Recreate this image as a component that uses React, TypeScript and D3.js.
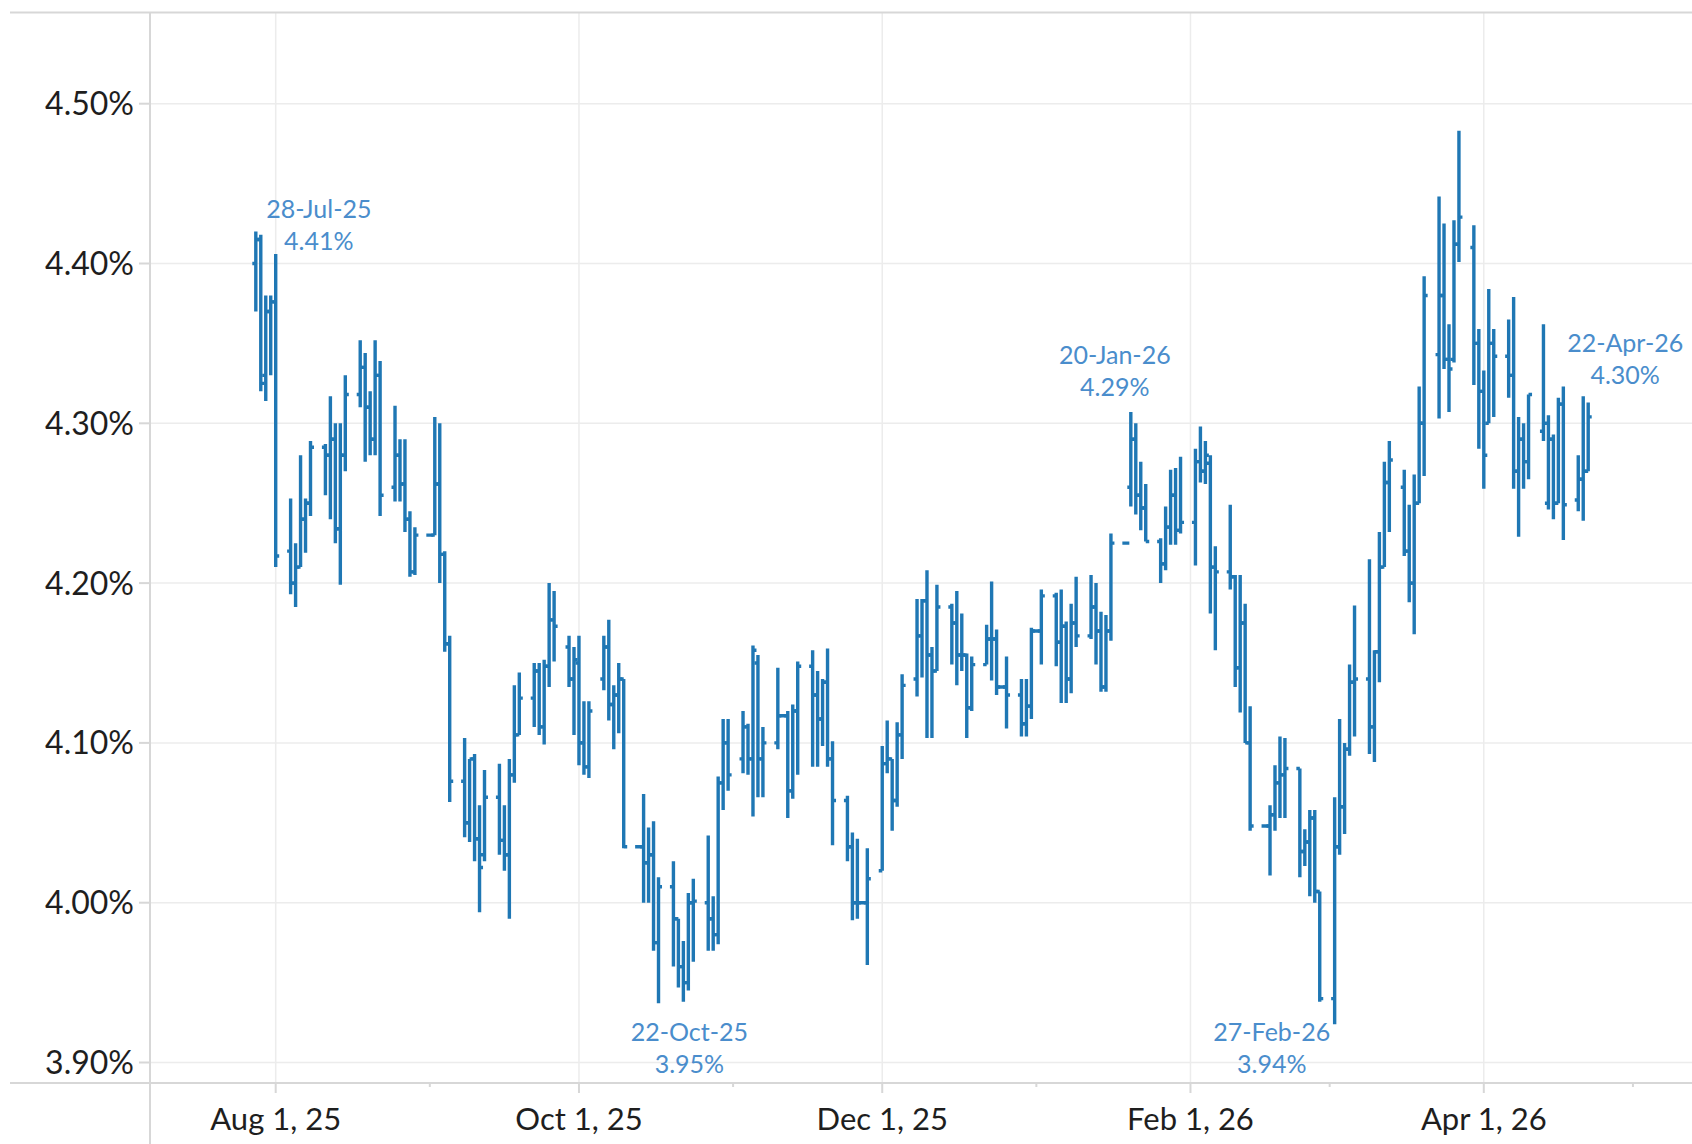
import React, { useEffect, useRef } from 'react';
import * as d3 from 'd3';

const firstDay = '2025-07-28';
const lastDay = '2026-04-22';

// one row per weekday (holidays carry a flat bar): [open, high, low, close] in %
const ohlc: [number, number, number, number][] = [
  // Jul 28 - Aug 1
  [4.40, 4.42, 4.37, 4.415], [4.415, 4.418, 4.32, 4.325], [4.33, 4.38, 4.314, 4.37], [4.37, 4.38, 4.33, 4.376], [4.376, 4.406, 4.21, 4.217],
  // Aug 4 - 8
  [4.22, 4.253, 4.193, 4.20], [4.20, 4.225, 4.185, 4.21], [4.21, 4.28, 4.21, 4.24], [4.24, 4.253, 4.219, 4.25], [4.25, 4.289, 4.242, 4.285],
  // Aug 11 - 15
  [4.285, 4.287, 4.255, 4.28], [4.28, 4.317, 4.24, 4.29], [4.29, 4.30, 4.225, 4.234], [4.234, 4.30, 4.199, 4.28], [4.28, 4.33, 4.27, 4.318],
  // Aug 18 - 22
  [4.318, 4.352, 4.31, 4.335], [4.335, 4.344, 4.276, 4.31], [4.31, 4.32, 4.28, 4.29], [4.29, 4.352, 4.28, 4.33], [4.33, 4.339, 4.242, 4.255],
  // Aug 25 - 29
  [4.26, 4.311, 4.251, 4.28], [4.28, 4.29, 4.251, 4.262], [4.262, 4.29, 4.232, 4.24], [4.24, 4.245, 4.204, 4.207], [4.207, 4.235, 4.205, 4.23],
  // Sep 1 - 5
  [4.23, 4.23, 4.23, 4.23], [4.23, 4.304, 4.23, 4.262], [4.262, 4.30, 4.20, 4.218], [4.218, 4.22, 4.157, 4.162], [4.162, 4.167, 4.063, 4.076],
  // Sep 8 - 12
  [4.076, 4.103, 4.041, 4.05], [4.05, 4.09, 4.038, 4.09], [4.09, 4.093, 4.026, 4.04], [4.04, 4.061, 3.994, 4.022], [4.03, 4.083, 4.026, 4.066],
  // Sep 15 - 19
  [4.066, 4.087, 4.03, 4.039], [4.039, 4.061, 4.02, 4.03], [4.03, 4.09, 3.99, 4.08], [4.08, 4.136, 4.075, 4.105], [4.105, 4.144, 4.105, 4.128],
  // Sep 22 - 26
  [4.128, 4.15, 4.11, 4.145], [4.145, 4.15, 4.105, 4.11], [4.11, 4.152, 4.099, 4.148], [4.148, 4.20, 4.135, 4.177], [4.177, 4.195, 4.151, 4.173],
  // Sep 29 - Oct 3
  [4.16, 4.167, 4.135, 4.14], [4.14, 4.16, 4.105, 4.152], [4.15, 4.167, 4.086, 4.10], [4.10, 4.126, 4.08, 4.085], [4.085, 4.126, 4.078, 4.12],
  // Oct 6 - 10
  [4.14, 4.167, 4.133, 4.16], [4.16, 4.177, 4.114, 4.124], [4.124, 4.136, 4.096, 4.13], [4.13, 4.15, 4.106, 4.14], [4.14, 4.14, 4.034, 4.035],
  // Oct 13 - 17
  [4.035, 4.035, 4.035, 4.035], [4.035, 4.068, 4.0, 4.025], [4.025, 4.047, 4.0, 4.03], [4.03, 4.051, 3.97, 3.975], [3.975, 4.016, 3.937, 4.01],
  // Oct 20 - 24
  [4.01, 4.026, 3.96, 3.99], [3.99, 3.99, 3.947, 3.96], [3.96, 3.976, 3.938, 3.95], [3.95, 4.006, 3.945, 4.0], [4.0, 4.015, 3.963, 4.001],
  // Oct 27 - 31
  [4.0, 4.042, 3.97, 3.99], [3.99, 4.004, 3.97, 3.98], [3.98, 4.079, 3.974, 4.075], [4.075, 4.115, 4.058, 4.10], [4.10, 4.115, 4.07, 4.08],
  // Nov 3 - 7
  [4.09, 4.12, 4.081, 4.11], [4.11, 4.112, 4.08, 4.09], [4.09, 4.161, 4.054, 4.158], [4.15, 4.155, 4.066, 4.09], [4.09, 4.11, 4.066, 4.10],
  // Nov 10 - 14
  [4.10, 4.147, 4.096, 4.117], [4.117, 4.117, 4.117, 4.117], [4.117, 4.12, 4.053, 4.07], [4.07, 4.124, 4.065, 4.12], [4.12, 4.151, 4.08, 4.148],
  // Nov 17 - 21
  [4.148, 4.158, 4.085, 4.13], [4.13, 4.145, 4.085, 4.115], [4.115, 4.14, 4.098, 4.138], [4.138, 4.159, 4.085, 4.09], [4.09, 4.101, 4.036, 4.064],
  // Nov 24 - 28
  [4.064, 4.067, 4.026, 4.035], [4.035, 4.044, 3.989, 4.0], [4.0, 4.04, 3.99, 4.0], [4.0, 4.0, 4.0, 4.0], [4.0, 4.034, 3.961, 4.015],
  // Dec 1 - 5
  [4.02, 4.098, 4.02, 4.087], [4.087, 4.114, 4.081, 4.09], [4.09, 4.09, 4.045, 4.064], [4.064, 4.113, 4.06, 4.105], [4.105, 4.143, 4.09, 4.136],
  // Dec 8 - 12
  [4.14, 4.19, 4.129, 4.167], [4.167, 4.19, 4.141, 4.189], [4.189, 4.208, 4.103, 4.155], [4.155, 4.16, 4.103, 4.145], [4.145, 4.199, 4.145, 4.185],
  // Dec 15 - 19
  [4.185, 4.187, 4.149, 4.175], [4.175, 4.195, 4.136, 4.155], [4.155, 4.181, 4.145, 4.155], [4.155, 4.156, 4.103, 4.122], [4.122, 4.154, 4.12, 4.149],
  // Dec 22 - 26
  [4.149, 4.174, 4.149, 4.165], [4.165, 4.201, 4.139, 4.165], [4.165, 4.171, 4.13, 4.135], [4.135, 4.135, 4.135, 4.135], [4.135, 4.154, 4.109, 4.13],
  // Dec 29 - Jan 2
  [4.13, 4.14, 4.104, 4.112], [4.112, 4.14, 4.104, 4.123], [4.123, 4.172, 4.115, 4.17], [4.17, 4.17, 4.17, 4.17], [4.17, 4.196, 4.149, 4.192],
  // Jan 5 - 9
  [4.192, 4.194, 4.148, 4.163], [4.163, 4.196, 4.125, 4.173], [4.173, 4.176, 4.125, 4.14], [4.14, 4.187, 4.131, 4.175], [4.175, 4.204, 4.16, 4.167],
  // Jan 12 - 16
  [4.167, 4.205, 4.165, 4.185], [4.185, 4.20, 4.149, 4.17], [4.17, 4.182, 4.132, 4.135], [4.135, 4.18, 4.132, 4.17], [4.17, 4.231, 4.164, 4.225],
  // Jan 19 - 23
  [4.225, 4.225, 4.225, 4.225], [4.26, 4.307, 4.248, 4.29], [4.29, 4.30, 4.243, 4.255], [4.255, 4.276, 4.233, 4.247], [4.247, 4.262, 4.226, 4.226],
  // Jan 26 - 30
  [4.226, 4.228, 4.20, 4.212], [4.212, 4.248, 4.208, 4.235], [4.235, 4.271, 4.224, 4.255], [4.255, 4.272, 4.224, 4.233], [4.233, 4.279, 4.231, 4.238],
  // Feb 2 - 6
  [4.238, 4.284, 4.211, 4.276], [4.276, 4.298, 4.263, 4.27], [4.27, 4.289, 4.262, 4.28], [4.275, 4.28, 4.181, 4.21], [4.21, 4.223, 4.158, 4.207],
  // Feb 9 - 13
  [4.207, 4.249, 4.196, 4.204], [4.204, 4.205, 4.135, 4.147], [4.147, 4.205, 4.119, 4.175], [4.175, 4.187, 4.10, 4.10], [4.10, 4.123, 4.045, 4.048],
  // Feb 16 - 20
  [4.048, 4.048, 4.048, 4.048], [4.048, 4.061, 4.017, 4.055], [4.055, 4.086, 4.045, 4.075], [4.075, 4.104, 4.053, 4.08], [4.08, 4.103, 4.053, 4.084],
  // Feb 23 - 27
  [4.084, 4.084, 4.016, 4.032], [4.032, 4.046, 4.023, 4.038], [4.038, 4.058, 4.004, 4.053], [4.053, 4.058, 4.0, 4.007], [4.007, 4.007, 3.938, 3.94],
  // Mar 2 - 6
  [3.94, 4.066, 3.924, 4.035], [4.035, 4.115, 4.03, 4.06], [4.06, 4.10, 4.043, 4.096], [4.096, 4.149, 4.092, 4.138], [4.138, 4.186, 4.104, 4.14],
  // Mar 9 - 13
  [4.14, 4.215, 4.093, 4.11], [4.11, 4.158, 4.088, 4.157], [4.157, 4.232, 4.138, 4.21], [4.21, 4.276, 4.21, 4.263], [4.263, 4.289, 4.232, 4.277],
  // Mar 16 - 20
  [4.26, 4.271, 4.217, 4.22], [4.22, 4.249, 4.188, 4.20], [4.20, 4.268, 4.168, 4.25], [4.25, 4.323, 4.25, 4.30], [4.30, 4.392, 4.267, 4.38],
  // Mar 23 - 27
  [4.343, 4.442, 4.303, 4.38], [4.38, 4.425, 4.334, 4.34], [4.34, 4.362, 4.307, 4.334], [4.34, 4.427, 4.338, 4.412], [4.412, 4.483, 4.401, 4.429],
  // Mar 30 - Apr 3
  [4.41, 4.424, 4.324, 4.35], [4.35, 4.359, 4.284, 4.32], [4.32, 4.333, 4.259, 4.28], [4.30, 4.384, 4.30, 4.35], [4.35, 4.359, 4.304, 4.342],
  // Apr 6 - 10
  [4.342, 4.365, 4.316, 4.33], [4.33, 4.379, 4.259, 4.27], [4.27, 4.304, 4.229, 4.29], [4.29, 4.30, 4.259, 4.276], [4.276, 4.318, 4.265, 4.318],
  // Apr 13 - 17
  [4.295, 4.362, 4.289, 4.30], [4.25, 4.305, 4.246, 4.29], [4.29, 4.293, 4.24, 4.25], [4.25, 4.316, 4.25, 4.312], [4.312, 4.323, 4.227, 4.249],
  // Apr 20 - 22
  [4.252, 4.28, 4.245, 4.265], [4.265, 4.317, 4.239, 4.27], [4.27, 4.313, 4.27, 4.304],
];

const yTicks = [3.9, 4.0, 4.1, 4.2, 4.3, 4.4, 4.5];
const majorTicks = ['2025-08-01', '2025-10-01', '2025-12-01', '2026-02-01', '2026-04-01'];
const minorTicks = ['2025-09-01', '2025-11-01', '2026-01-01', '2026-03-01', '2026-05-01'];

// labelled turning points, with the offset of the label from the point
const callouts = [
  { date: '2025-07-28', value: 4.41, dx: 63, dy: 2 },
  { date: '2025-10-22', value: 3.95, dx: 6, dy: 90 },
  { date: '2026-01-20', value: 4.29, dx: -16, dy: -43 },
  { date: '2026-02-27', value: 3.94, dx: -48, dy: 74 },
  { date: '2026-04-22', value: 4.30, dx: 37, dy: -39 },
];

const App: React.FC = () => {
  const svgRef = useRef<SVGSVGElement>(null);

  useEffect(() => {
    const width = 1692;
    const height = 1144;
    const plotLeft = 150;
    const plotTop = 12.5;
    const plotBottom = 1083;
    const lineLeft = 10;
    const font = 'Lato, "Open Sans", sans-serif';
    const barColor = '#1f77b4';

    const parse = d3.utcParse('%Y-%m-%d');
    const svg = d3.select(svgRef.current)
      .attr('width', width)
      .attr('height', height)
      .attr('viewBox', [0, 0, width, height]);
    svg.selectAll('*').remove();

    const days = d3.utcDay
      .range(parse(firstDay)!, d3.utcDay.offset(parse(lastDay)!, 1))
      .filter(d => d.getUTCDay() !== 0 && d.getUTCDay() !== 6);

    const x = d3.scaleUtc()
      .domain([parse('2025-08-01')!, parse('2026-04-01')!])
      .range([275.7, 1483.8]);
    const y = d3.scaleLinear().domain([3.9, 4.5]).range([1062.5, 103.7]);

    svg.append('rect').attr('width', width).attr('height', height).attr('fill', '#fff');

    // grid
    svg.append('g')
      .selectAll('line')
      .data(yTicks)
      .join('line')
      .attr('x1', plotLeft).attr('x2', width)
      .attr('y1', d => y(d)).attr('y2', d => y(d))
      .attr('stroke', '#ececec').attr('stroke-width', 1.5);

    svg.append('g')
      .selectAll('line')
      .data(majorTicks)
      .join('line')
      .attr('x1', d => x(parse(d)!)).attr('x2', d => x(parse(d)!))
      .attr('y1', plotTop).attr('y2', plotBottom)
      .attr('stroke', '#ececec').attr('stroke-width', 1.5);

    // frame lines
    const frame = svg.append('g').attr('stroke', '#d7d7d7').attr('stroke-width', 2);
    frame.append('line').attr('x1', lineLeft).attr('x2', width).attr('y1', plotTop).attr('y2', plotTop);
    frame.append('line').attr('x1', lineLeft).attr('x2', width).attr('y1', plotBottom).attr('y2', plotBottom);
    frame.append('line').attr('x1', plotLeft).attr('x2', plotLeft).attr('y1', plotTop).attr('y2', height);

    // y axis ticks and labels
    const yAxis = svg.append('g');
    yAxis.selectAll('line')
      .data(yTicks)
      .join('line')
      .attr('x1', plotLeft - 11).attr('x2', plotLeft)
      .attr('y1', d => y(d)).attr('y2', d => y(d))
      .attr('stroke', '#d7d7d7').attr('stroke-width', 2);
    yAxis.selectAll('text')
      .data(yTicks)
      .join('text')
      .attr('x', plotLeft - 16)
      .attr('y', d => y(d))
      .attr('dy', '0.36em')
      .attr('text-anchor', 'end')
      .attr('font-family', font)
      .attr('font-size', 32)
      .attr('fill', '#1e1e1e')
      .text(d => d.toFixed(2) + '%');

    // x axis ticks and labels
    const xAxis = svg.append('g');
    xAxis.selectAll('line.major')
      .data(majorTicks)
      .join('line')
      .attr('class', 'major')
      .attr('x1', d => x(parse(d)!)).attr('x2', d => x(parse(d)!))
      .attr('y1', plotBottom).attr('y2', plotBottom + 10)
      .attr('stroke', '#d7d7d7').attr('stroke-width', 2);
    xAxis.selectAll('line.minor')
      .data(minorTicks)
      .join('line')
      .attr('class', 'minor')
      .attr('x1', d => x(parse(d)!)).attr('x2', d => x(parse(d)!))
      .attr('y1', plotBottom).attr('y2', plotBottom + 4)
      .attr('stroke', '#d7d7d7').attr('stroke-width', 2);
    const fmtTick = d3.utcFormat('%b %-d, %y');
    xAxis.selectAll('text')
      .data(majorTicks)
      .join('text')
      .attr('x', d => x(parse(d)!))
      .attr('y', plotBottom + 47)
      .attr('text-anchor', 'middle')
      .attr('font-family', font)
      .attr('font-size', 31)
      .attr('fill', '#1e1e1e')
      .text(d => fmtTick(parse(d)!));

    // OHLC bars
    const tick = 3.5;
    const n = Math.min(days.length, ohlc.length);
    const bars = days.slice(0, n).map((d, i) => ({ date: d, o: ohlc[i][0], h: ohlc[i][1], l: ohlc[i][2], c: ohlc[i][3] }));
    svg.append('g')
      .selectAll('path')
      .data(bars)
      .join('path')
      .attr('d', b => {
        const cx = x(b.date);
        return `M${cx - tick},${y(b.o)}H${cx}M${cx},${y(b.h)}V${y(b.l)}M${cx},${y(b.c)}H${cx + tick}`;
      })
      .attr('fill', 'none')
      .attr('stroke', barColor)
      .attr('stroke-width', 3.4);

    // callouts
    const fmtCallout = d3.utcFormat('%d-%b-%y');
    const notes = svg.append('g')
      .attr('font-family', font)
      .attr('font-size', 25)
      .attr('fill', '#4a8dcc')
      .attr('text-anchor', 'middle');
    callouts.forEach(cl => {
      const d = parse(cl.date)!;
      const cx = x(d) + cl.dx;
      const cy = y(cl.value) + cl.dy;
      notes.append('text').attr('x', cx).attr('y', cy - 32).text(fmtCallout(d));
      notes.append('text').attr('x', cx).attr('y', cy).text(cl.value.toFixed(2) + '%');
    });
  }, []);

  return <svg ref={svgRef} style={{ position: 'absolute', left: 0, top: 0, display: 'block' }} />;
};

export default App;
